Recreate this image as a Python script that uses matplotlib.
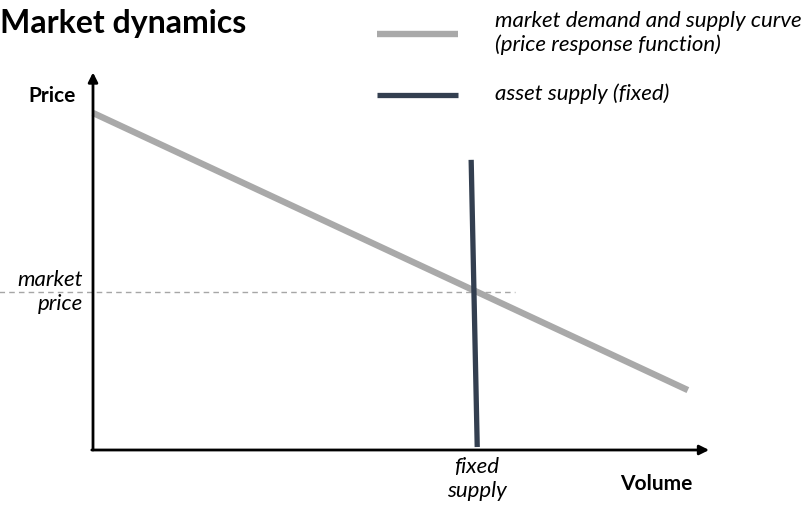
import matplotlib
matplotlib.use("Agg")
import matplotlib.pyplot as plt

plt.rcParams['font.family'] = ['Lato', 'DejaVu Sans']

# conceptual data (volume, price) in 0..100 units
demand_volume = [0.0, 98.0]
demand_price = [90.6, 16.1]
supply_volume = [62.3, 63.3]
supply_price = [78.0, 0.8]
market_price = 42.5
dashed_volume = [-16.0, 69.5]

gray = '#A9A9A9'
navy = '#333F50'

W, H = 803, 505
fig = plt.figure(figsize=(W / 100, H / 100), dpi=100)

# axes box: origin at pixel (93, 450), top at y=78, right at x=700
left, bottom = 93 / W, (H - 450) / H
ax = fig.add_axes([left, bottom, (700 - 93) / W, (450 - 78) / H])
ax.set_xlim(0, 100)
ax.set_ylim(0, 100)
ax.axis('off')

ax.plot(dashed_volume, [market_price, market_price], color='#A6A6A6',
        lw=1.0, ls=(0, (4, 3)), clip_on=False, zorder=1)
ax.plot(demand_volume, demand_price, color=gray, lw=4.6,
        solid_capstyle='butt', clip_on=False, zorder=2)
ax.plot(supply_volume, supply_price, color=navy, lw=3.8,
        solid_capstyle='butt', clip_on=False, zorder=3)

# axis arrows
ax.annotate('', xy=(0, 101.5), xytext=(0, 0), xycoords='data',
            arrowprops=dict(arrowstyle='-|>', color='black', lw=2.0,
                            mutation_scale=14, shrinkA=0, shrinkB=0),
            annotation_clip=False, zorder=4)
ax.annotate('', xy=(101.5, 0), xytext=(-0.2, 0), xycoords='data',
            arrowprops=dict(arrowstyle='-|>', color='black', lw=2.0,
                            mutation_scale=14, shrinkA=0, shrinkB=0),
            annotation_clip=False, zorder=4)

# labels
fig.text(0, 1 - 24 / H, 'Market dynamics', fontsize=23, fontweight='bold',
         ha='left', va='center')
fig.text(52 / W, 1 - 96 / H, 'Price', fontsize=15, fontweight='bold',
         ha='center', va='center')
fig.text(656 / W, 1 - 484 / H, 'Volume', fontsize=15, fontweight='bold',
         ha='center', va='center')
fig.text(83 / W, 1 - 292 / H, 'market\nprice', fontsize=16, style='italic',
         ha='right', va='center', linespacing=1.2)
fig.text(477 / W, 1 - 479 / H, 'fixed\nsupply', fontsize=16, style='italic',
         ha='center', va='center', linespacing=1.2)

# legend
fig.add_artist(plt.Line2D([377 / W, 458 / W], [1 - 34 / H, 1 - 34 / H],
                          color=gray, lw=4.6, solid_capstyle='butt'))
fig.add_artist(plt.Line2D([377 / W, 458 / W], [1 - 95 / H, 1 - 95 / H],
                          color=navy, lw=3.8, solid_capstyle='butt'))
fig.text(495 / W, 1 - 33 / H, 'market demand and supply curve\n(price response function)',
         fontsize=16, style='italic', ha='left', va='center', linespacing=1.2)
fig.text(495 / W, 1 - 94 / H, 'asset supply (fixed)', fontsize=16,
         style='italic', ha='left', va='center')

fig.savefig('out.png', dpi=100)
